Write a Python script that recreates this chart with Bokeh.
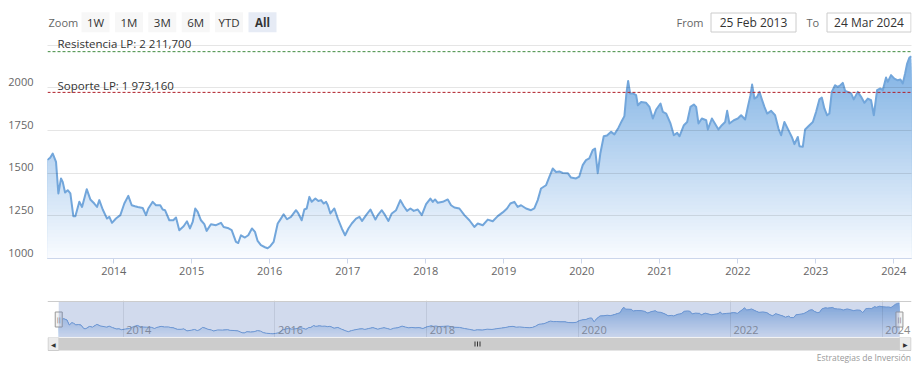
import numpy as np
import pandas as pd
from datetime import datetime, timedelta
from bokeh.plotting import figure
from bokeh.layouts import column
from bokeh.models import (Range1d, FixedTicker, LinearAxis, Grid, Span,
                          BoxAnnotation, DatetimeTickFormatter)
from bokeh.core.properties import value
from bokeh.embed import file_html
from bokeh.resources import INLINE

FONT = "Open Sans"

# ---------------- data ----------------
years_frac = [
    2013.151, 2013.185, 2013.218, 2013.260, 2013.290, 2013.324, 2013.346, 2013.376, 2013.410, 2013.444,
    2013.482, 2013.508, 2013.559, 2013.594, 2013.654, 2013.700, 2013.751, 2013.786, 2013.815, 2013.859,
    2013.914, 2013.944, 2013.978, 2014.029, 2014.085, 2014.136, 2014.187, 2014.231, 2014.273, 2014.308,
    2014.372, 2014.414, 2014.444, 2014.500, 2014.542, 2014.597, 2014.628, 2014.658, 2014.713, 2014.764,
    2014.799, 2014.841, 2014.897, 2014.940, 2014.978, 2015.013, 2015.046, 2015.077, 2015.119, 2015.162,
    2015.192, 2015.247, 2015.312, 2015.376, 2015.410, 2015.462, 2015.513, 2015.568, 2015.597, 2015.632,
    2015.683, 2015.726, 2015.773, 2015.812, 2015.846, 2015.888, 2015.940, 2015.974, 2016.008, 2016.051,
    2016.103, 2016.136, 2016.179, 2016.222, 2016.273, 2016.337, 2016.367, 2016.410, 2016.444, 2016.474,
    2016.508, 2016.538, 2016.585, 2016.623, 2016.658, 2016.692, 2016.722, 2016.744, 2016.777, 2016.828,
    2016.872, 2016.923, 2016.965, 2017.008, 2017.051, 2017.106, 2017.149, 2017.183, 2017.235, 2017.290,
    2017.354, 2017.385, 2017.436, 2017.478, 2017.521, 2017.564, 2017.619, 2017.674, 2017.718, 2017.760,
    2017.803, 2017.846, 2017.897, 2017.949, 2018.004, 2018.059, 2018.090, 2018.119, 2018.154, 2018.218,
    2018.282, 2018.324, 2018.367, 2018.431, 2018.495, 2018.559, 2018.623, 2018.667, 2018.731, 2018.795,
    2018.859, 2018.923, 2018.987, 2019.042, 2019.085, 2019.136, 2019.179, 2019.222, 2019.286, 2019.350,
    2019.392, 2019.436, 2019.478, 2019.542, 2019.585, 2019.628, 2019.671, 2019.713, 2019.756, 2019.821,
    2019.863, 2019.927, 2019.969, 2020.013, 2020.055, 2020.097, 2020.141, 2020.171, 2020.205, 2020.238,
    2020.282, 2020.324, 2020.376, 2020.418, 2020.469, 2020.513, 2020.546, 2020.572, 2020.594, 2020.619,
    2020.654, 2020.696, 2020.718, 2020.760, 2020.824, 2020.867, 2020.910, 2020.953, 2021.008, 2021.038,
    2021.081, 2021.136, 2021.179, 2021.222, 2021.251, 2021.308, 2021.350, 2021.392, 2021.436, 2021.465,
    2021.495, 2021.538, 2021.594, 2021.615, 2021.667, 2021.700, 2021.751, 2021.795, 2021.837, 2021.863,
    2021.892, 2021.949, 2022.000, 2022.042, 2022.094, 2022.128, 2022.162, 2022.183, 2022.213, 2022.247,
    2022.277, 2022.308, 2022.341, 2022.376, 2022.427, 2022.478, 2022.521, 2022.555, 2022.597, 2022.649,
    2022.692, 2022.726, 2022.769, 2022.790, 2022.833, 2022.863, 2022.905, 2022.962, 2023.004, 2023.046,
    2023.077, 2023.110, 2023.145, 2023.174, 2023.205, 2023.247, 2023.282, 2023.315, 2023.346, 2023.376,
    2023.410, 2023.453, 2023.487, 2023.538, 2023.581, 2023.623, 2023.667, 2023.709, 2023.744, 2023.786,
    2023.828, 2023.859, 2023.901, 2023.923, 2023.965, 2024.008, 2024.051, 2024.085, 2024.115, 2024.145,
    2024.171, 2024.200, 2024.227,
]
prices = [
    1578, 1590, 1615, 1566, 1381, 1469, 1449, 1387, 1400, 1381,
    1248, 1248, 1332, 1302, 1406, 1346, 1322, 1302, 1342, 1287,
    1234, 1244, 1209, 1234, 1254, 1322, 1367, 1312, 1306, 1302,
    1296, 1254, 1293, 1332, 1312, 1312, 1287, 1283, 1224, 1224,
    1240, 1166, 1189, 1218, 1176, 1214, 1293, 1273, 1224, 1201,
    1162, 1201, 1195, 1209, 1185, 1179, 1166, 1097, 1091, 1136,
    1123, 1136, 1176, 1156, 1103, 1078, 1066, 1060, 1072, 1097,
    1205, 1228, 1259, 1230, 1244, 1283, 1264, 1224, 1287, 1293,
    1361, 1332, 1351, 1337, 1342, 1322, 1332, 1312, 1264, 1293,
    1234, 1176, 1136, 1176, 1205, 1234, 1244, 1220, 1254, 1287,
    1228, 1254, 1283, 1254, 1220, 1264, 1283, 1342, 1306, 1279,
    1293, 1279, 1287, 1254, 1318, 1351, 1332, 1346, 1326, 1332,
    1346, 1312, 1299, 1293, 1254, 1224, 1185, 1205, 1195, 1228,
    1218, 1248, 1270, 1293, 1322, 1332, 1302, 1312, 1293, 1283,
    1293, 1342, 1410, 1429, 1478, 1527, 1507, 1510, 1501, 1500,
    1474, 1469, 1480, 1547, 1576, 1586, 1635, 1644, 1500, 1615,
    1716, 1720, 1742, 1727, 1765, 1806, 1834, 1967, 2040, 1967,
    1967, 1957, 1898, 1917, 1912, 1888, 1820, 1873, 1908, 1859,
    1849, 1791, 1722, 1736, 1716, 1781, 1800, 1888, 1902, 1888,
    1791, 1820, 1810, 1756, 1820, 1795, 1756, 1781, 1800, 1865,
    1791, 1810, 1820, 1839, 1814, 1888, 1957, 2019, 1937, 1947,
    1976, 1932, 1888, 1849, 1865, 1839, 1761, 1722, 1800, 1752,
    1712, 1670, 1712, 1658, 1654, 1756, 1775, 1800, 1859, 1932,
    1943, 1879, 1839, 1849, 1976, 2015, 2005, 2015, 2029, 1982,
    1976, 1967, 1932, 1976, 1947, 1912, 1937, 1927, 1839, 1986,
    1996, 1986, 2060, 2035, 2074, 2054, 2044, 2049, 2025, 2084,
    2142, 2177, 2185,
]
resistance = 2211.700
support = 1973.160
res_label = "Resistencia LP: 2 211,700"
sup_label = "Soporte LP: 1 973,160"
y_ticks = [1000, 1250, 1500, 1750, 2000, 2250]
y_labels_shown = [1000, 1250, 1500, 1750, 2000]
x_tick_years = list(range(2014, 2025))
nav_tick_years = [2014, 2016, 2018, 2020, 2022, 2024]
range_buttons = ["1W", "1M", "3M", "6M", "YTD", "All"]
from_date = "25 Feb 2013"
to_date = "24 Mar 2024"
credits_text = "Estrategias de Inversión"
start_date = pd.Timestamp("2013-02-25")
end_date = pd.Timestamp("2024-03-24")

# common horizontal frame (all stacked figures share it)
W = 924
BL, BR = 47, 13
FX0, FX1 = BL, W - BR


def frac_to_dt(f):
    y = int(np.floor(f))
    s = datetime(y, 1, 1)
    n = (datetime(y + 1, 1, 1) - s).days
    return s + timedelta(days=(f - y) * n)


dates = pd.to_datetime([frac_to_dt(f) for f in years_frac])
vals = np.array(prices, dtype=float)


def ms(ts):
    return pd.Timestamp(ts).value / 1e6


def hexcol(c):
    return "#%02x%02x%02x" % tuple(int(round(v)) for v in c)


def gradient_area(fig, lo_val, hi_val, n, top_rgb, bot_rgb):
    top_rgb = np.array(top_rgb, float)
    bot_rgb = np.array(bot_rgb, float)
    edges = np.linspace(lo_val, hi_val, n + 1)
    base = np.full(len(vals), lo_val)
    for k in range(n - 1, -1, -1):
        lo, hi = edges[k], edges[k + 1]
        if lo > vals.max():
            continue
        t = ((lo + hi) / 2 - lo_val) / (hi_val - lo_val)
        col = hexcol(bot_rgb + t * (top_rgb - bot_rgb))
        fig.varea(x=dates, y1=base, y2=np.minimum(vals, hi), fill_color=col)


def blank_fig(h, y0, y1):
    f = figure(width=W, height=h, x_range=Range1d(FX0, FX1), y_range=Range1d(y1, y0),
               output_backend="svg", toolbar_location=None,
               x_axis_location=None, y_axis_location=None,
               min_border_left=BL, min_border_right=BR, min_border_top=0, min_border_bottom=0,
               background_fill_color="white", border_fill_color="white",
               outline_line_color=None)
    f.xgrid.visible = False
    f.ygrid.visible = False
    return f


# ---------------- top bar: range selector + inputs (page y 0..36) ----------------
top = blank_fig(36, 0, 36)
top.text(x=[48], y=[21.7], text=["Zoom"], text_font=value(FONT), text_font_size="11px",
         text_color="#666666", text_baseline="middle", text_align="left")
bl = [81 + i * 33.4 for i in range(len(range_buttons))]
top.quad(left=bl, right=[b + 28 for b in bl], top=[11.7] * 6, bottom=[31.7] * 6,
         fill_color=["#f7f7f7"] * 5 + ["#e6ebf5"], line_color=None)
top.text(x=[b + 14 for b in bl[:-1]], y=[21.7] * 5, text=range_buttons[:-1],
         text_font=value(FONT), text_font_size="11.5px", text_color="#333333",
         text_baseline="middle", text_align="center")
top.text(x=[bl[-1] + 14], y=[21.7], text=[range_buttons[-1]], text_font=value(FONT),
         text_font_size="11.5px", text_color="#333333", text_font_style="bold",
         text_baseline="middle", text_align="center")
top.text(x=[703, 818.7], y=[21.7, 21.7], text=["From", "To"], text_font=value(FONT),
         text_font_size="11px", text_color="#666666", text_baseline="middle", text_align="right")
top.quad(left=[710.5, 826.5], right=[795.5, 910.5], top=[12.5, 12.5], bottom=[31.5, 31.5],
         fill_color="white", line_color="#cccccc")
top.text(x=[753, 868.5], y=[21.7, 21.7], text=[from_date, to_date], text_font=value(FONT),
         text_font_size="12px", text_color="#333333", text_baseline="middle", text_align="center")

# ---------------- main chart (page y 36..290, frame 36..258) ----------------
Y0, Y1 = 1000, 2300.5
p = figure(width=W, height=254, x_axis_type="datetime",
           x_range=Range1d(start_date, end_date), y_range=Range1d(Y0, Y1),
           output_backend="svg", toolbar_location=None, y_axis_location=None,
           min_border_left=BL, min_border_right=BR, min_border_top=0, min_border_bottom=32,
           background_fill_color="white", border_fill_color="white", outline_line_color=None)
p.xgrid.visible = False
p.ygrid.visible = False

gradient_area(p, 1000, 2250, 60, (118, 172, 226), (250, 252, 255))
p.line(x=dates, y=vals, line_color="#72a6db", line_width=2, line_join="round")

p.add_layout(Grid(dimension=1, ticker=FixedTicker(ticks=y_ticks), grid_line_color="black",
                  grid_line_alpha=0.1, level="guide"))

# left labels sit slightly above their grid lines (Highcharts style)
off = 5.7 * (Y1 - Y0) / 222.0
p.extra_y_ranges = {"lab": Range1d(Y0 - off, Y1 - off)}
yax = LinearAxis(y_range_name="lab", ticker=FixedTicker(ticks=y_labels_shown),
                 axis_line_color=None, major_tick_line_color=None, minor_tick_line_color=None,
                 major_tick_in=0, major_tick_out=0, major_label_standoff=14,
                 major_label_text_font=FONT, major_label_text_font_size="11px",
                 major_label_text_color="#666666")
p.add_layout(yax, "left")

xax = p.xaxis[0]
xax.ticker = FixedTicker(ticks=[ms(f"{y}-01-01") for y in x_tick_years])
xax.formatter = DatetimeTickFormatter(years="%Y", months="%Y", days="%Y")
xax.axis_line_color = "#ccd6eb"
xax.major_tick_line_color = "#ccd6eb"
xax.minor_tick_line_color = None
xax.major_tick_in = 0
xax.major_tick_out = 5
xax.major_label_standoff = 3
xax.major_label_text_font = FONT
xax.major_label_text_font_size = "11px"
xax.major_label_text_color = "#666666"

p.add_layout(Span(location=resistance, dimension="width", line_color="#3f8a3f",
                  line_dash="3 2", line_width=1))
p.add_layout(Span(location=support, dimension="width", line_color="#b01e28",
                  line_dash="3 2", line_width=1))
p.text(x=pd.to_datetime([start_date, start_date]), y=[resistance, support],
       text=[res_label, sup_label], x_offset=10, y_offset=[-8, -7],
       text_font=value(FONT), text_font_size="11.5px", text_color="#333333",
       text_baseline="middle", text_align="left")

# ---------------- navigator (page y 290..337) ----------------
NY0, NY1 = 922, 2285
NTOP = 2248
nav = figure(width=W, height=47, x_axis_type="datetime",
             x_range=Range1d(start_date - pd.Timedelta(days=54), end_date + pd.Timedelta(days=58)),
             y_range=Range1d(NY0, NY1), output_backend="svg", toolbar_location=None,
             x_axis_location=None, y_axis_location=None,
             min_border_left=BL, min_border_right=BR, min_border_top=10, min_border_bottom=0,
             background_fill_color="white", border_fill_color="white", outline_line_color=None)
nav.xgrid.visible = False
nav.ygrid.visible = False
gradient_area(nav, NY0, NTOP, 24, (128, 172, 224), (245, 248, 253))
nav.line(x=dates, y=vals, line_color="#6f9ed9", line_width=1)
nav_ms = [ms(f"{y}-01-01") for y in nav_tick_years]
nav.add_layout(Grid(dimension=0, ticker=FixedTicker(ticks=nav_ms), grid_line_color="black",
                    grid_line_alpha=0.1, level="guide"))
nav.add_layout(BoxAnnotation(left=ms(start_date), right=ms(end_date), top=NTOP,
                             fill_color="#6685c2", fill_alpha=0.3, line_color=None))
nav.add_layout(Span(location=NTOP, dimension="width", line_color="#cccccc", line_width=1))
nav.text(x=pd.to_datetime([f"{y}-01-01" for y in nav_tick_years]), y=[NY0] * len(nav_tick_years),
         text=[str(y) for y in nav_tick_years], x_offset=3, y_offset=-8,
         text_font=value(FONT), text_font_size="11px", text_color="#8a8a8a",
         text_baseline="middle", text_align="left")
hy = (NY0 + NTOP) / 2
nav.rect(x=pd.to_datetime([start_date, end_date]), y=[hy, hy], width=7, height=15,
         width_units="screen", height_units="screen", fill_color="#f2f2f2",
         line_color="#999999", line_width=1)
nav.text(x=pd.to_datetime([start_date, end_date]), y=[hy, hy], text=["||", "||"],
         text_font=value("DejaVu Sans"), text_font_size="6px", text_color="#666666",
         text_baseline="middle", text_align="center")

# ---------------- scrollbar + credits (page y 337..367) ----------------
sb = blank_fig(30, 337, 367)
sb.quad(left=[58.3], right=[898.9], top=[337], bottom=[350], fill_color="#cccccc", line_color=None)
sb.quad(left=[47.5, 898.9], right=[58.3, 910.5], top=[337, 337], bottom=[350, 350],
        fill_color="#ebebeb", line_color="#cccccc")
sb.text(x=[52.8, 904.8], y=[343.7, 343.7], text=["◀", "▶"], text_font=value("DejaVu Sans"),
        text_font_size="6px", text_color="#333333", text_baseline="middle", text_align="center")
sb.segment(x0=[474.5, 477, 479.5], y0=[341, 341, 341], x1=[474.5, 477, 479.5], y1=[346, 346, 346],
           line_color="#333333", line_width=1)
sb.text(x=[910.5], y=[357], text=[credits_text], text_font=value(FONT), text_font_size="8.5px",
        text_color="#999999", text_baseline="middle", text_align="right")

layout = column(top, p, nav, sb, spacing=0)
open("out.html", "w").write(file_html(layout, INLINE))
